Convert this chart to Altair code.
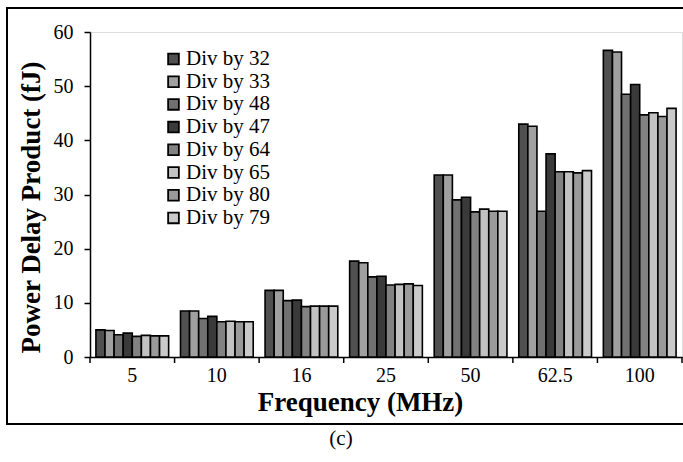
import altair as alt
import pandas as pd

freqs = ["5", "10", "16", "25", "50", "62.5", "100"]
series = ["Div by 32", "Div by 33", "Div by 48", "Div by 47",
          "Div by 64", "Div by 65", "Div by 80", "Div by 79"]
colors = ["#505050", "#a0a0a0", "#717171", "#3a3a3a",
          "#828282", "#c2c2c2", "#9a9a9a", "#cacaca"]
values = {
    "Div by 32": [5.0, 8.5, 12.3, 17.7, 33.6, 43.0, 56.6],
    "Div by 33": [4.9, 8.5, 12.3, 17.4, 33.6, 42.6, 56.3],
    "Div by 48": [4.1, 7.1, 10.4, 14.8, 29.0, 26.9, 48.5],
    "Div by 47": [4.4, 7.5, 10.5, 14.9, 29.5, 37.5, 50.3],
    "Div by 64": [3.8, 6.5, 9.3, 13.3, 26.8, 34.2, 44.7],
    "Div by 65": [4.0, 6.6, 9.4, 13.4, 27.3, 34.2, 45.1],
    "Div by 80": [3.9, 6.5, 9.4, 13.5, 26.9, 34.0, 44.4],
    "Div by 79": [3.9, 6.5, 9.4, 13.2, 26.9, 34.4, 45.9],
}
boundaries = list(range(len(freqs) + 1))

rows = []
for s in series:
    for f, v in zip(freqs, values[s]):
        rows.append({"freq": f, "series": s, "value": v})
df = pd.DataFrame(rows)

W, H = 592, 325
FONT = "Times New Roman, Liberation Serif, Tinos, serif"

xscale = alt.Scale(domain=freqs, paddingInner=0.14, paddingOuter=0.07)

bars = alt.Chart(df).mark_bar(stroke="black", strokeWidth=1.6).encode(
    x=alt.X("freq:N", scale=xscale, sort=freqs,
            axis=alt.Axis(title="Frequency (MHz)", labelAngle=0, ticks=False,
                          domainColor="black", domainWidth=1.5,
                          labelFont=FONT, labelFontSize=20, labelColor="black",
                          labelPadding=8, titleFont=FONT, titleFontSize=27,
                          titleFontWeight="bold", titleColor="black",
                          titleX=270, titleY=53, titleBaseline="alphabetic")),
    xOffset=alt.XOffset("series:N", sort=series, scale=alt.Scale(domain=series)),
    y=alt.Y("value:Q", scale=alt.Scale(domain=[0, 60]),
            axis=alt.Axis(title="Power Delay Product (fJ)", values=[0, 10, 20, 30, 40, 50, 60],
                          grid=False, domainColor="black", domainWidth=1.5,
                          tickColor="black", tickSize=6, tickWidth=1.5,
                          labelFont=FONT, labelFontSize=20, labelColor="black",
                          labelPadding=11, titleFont=FONT, titleFontSize=27,
                          titleFontWeight="bold", titleColor="black",
                          titleX=-59, titleY=175, titleBaseline="middle", titleAlign="center")),
    color=alt.Color("series:N", sort=series,
                    scale=alt.Scale(domain=series, range=colors),
                    legend=alt.Legend(title=None, orient="none", legendX=73, legendY=16.5,
                                      symbolType="square", symbolSize=115,
                                      symbolStrokeColor="black", symbolStrokeWidth=1.8,
                                      labelFont=FONT, labelFontSize=21, labelColor="black",
                                      labelOffset=2, rowPadding=0.7, padding=0)),
)

xticks = alt.Chart(pd.DataFrame({"b": boundaries})).mark_rule(color="black", strokeWidth=1.5).encode(
    x=alt.X("b:Q", scale=alt.Scale(domain=[0, len(freqs)], nice=False, zero=False), axis=None),
    y=alt.value(H), y2=alt.value(H + 6),
)
frame = alt.Chart(pd.DataFrame({"a": [0]})).mark_rect(
    fill=None, stroke="black", strokeWidth=2
).encode(
    x=alt.value(-83), x2=alt.value(W + 60), y=alt.value(-24), y2=alt.value(H + 67),
)
caption = alt.Chart(pd.DataFrame({"t": ["(c)"]})).mark_text(
    font=FONT, fontSize=21, color="black"
).encode(
    text="t:N", x=alt.value(251), y=alt.value(H + 82),
)

chart = alt.layer(bars, xticks, frame, caption).resolve_scale(x="independent").properties(
    width=W, height=H,
    padding={"left": 90, "top": 32, "right": 1, "bottom": 105},
    autosize=alt.AutoSizeParams(type="none"),
).configure_view(stroke=None).configure(background="white")

chart.save("out.html", embed_options={"renderer": "svg", "actions": False})
